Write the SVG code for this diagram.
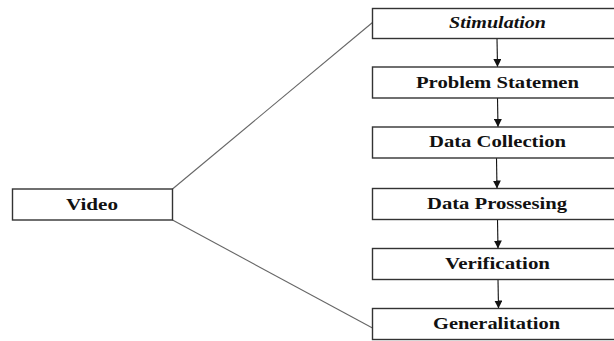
<svg xmlns="http://www.w3.org/2000/svg" width="614" height="341" viewBox="0 0 614 341">
<style>
.box{fill:#fff;stroke:#333;stroke-width:1.4}
.lbl{font-family:"Liberation Serif","Times New Roman",serif;font-weight:bold;font-size:16px;fill:#111;text-anchor:middle}
.it{font-style:italic}
.link{stroke:#666;stroke-width:1.1;fill:none}
.arr{stroke:#111;stroke-width:1.1;fill:none;marker-end:url(#ah)}
</style>
<defs>
<marker id="ah" markerWidth="8" markerHeight="8" refX="8" refY="4" orient="auto" markerUnits="userSpaceOnUse">
<path d="M0,0 L8,4 L0,8 Z" fill="#111"/>
</marker>
</defs>
<rect width="614" height="341" fill="#fff"/>
<g id="connectors">
<line class="link" x1="172.5" y1="189" x2="372.5" y2="22.5"/>
<line class="link" x1="172.5" y1="220" x2="372.5" y2="328"/>
<line class="arr" x1="497" y1="38.5" x2="497.5" y2="67"/>
<line class="arr" x1="497.5" y1="98" x2="498" y2="127"/>
<line class="arr" x1="496.5" y1="158" x2="497" y2="188.5"/>
<line class="arr" x1="497.5" y1="219.5" x2="498" y2="248.5"/>
<line class="arr" x1="498" y1="279.5" x2="498.5" y2="308.5"/>
</g>
<g id="video">
<rect class="box" x="12.5" y="189" width="160" height="31"/>
<text class="lbl" x="92" y="209.5" textLength="52" lengthAdjust="spacingAndGlyphs">Video</text>
</g>
<g id="stimulation">
<rect class="box" x="372.5" y="8.5" width="250" height="30"/>
<text class="lbl it" x="497.5" y="28" textLength="97" lengthAdjust="spacingAndGlyphs">Stimulation</text>
</g>
<g id="problem">
<rect class="box" x="372.5" y="67" width="250" height="31"/>
<text class="lbl" x="497.5" y="87.5" textLength="163" lengthAdjust="spacingAndGlyphs">Problem Statemen</text>
</g>
<g id="collection">
<rect class="box" x="372.5" y="127" width="250" height="31"/>
<text class="lbl" x="497.5" y="147" textLength="137" lengthAdjust="spacingAndGlyphs">Data Collection</text>
</g>
<g id="processing">
<rect class="box" x="372.5" y="188.5" width="250" height="31"/>
<text class="lbl" x="497" y="208.5" textLength="140" lengthAdjust="spacingAndGlyphs">Data Prossesing</text>
</g>
<g id="verification">
<rect class="box" x="372.5" y="248.5" width="250" height="31"/>
<text class="lbl" x="497.5" y="268.5" textLength="105" lengthAdjust="spacingAndGlyphs">Verification</text>
</g>
<g id="generalitation">
<rect class="box" x="372.5" y="308.5" width="250" height="31"/>
<text class="lbl" x="496.5" y="328.5" textLength="127" lengthAdjust="spacingAndGlyphs">Generalitation</text>
</g>
</svg>
